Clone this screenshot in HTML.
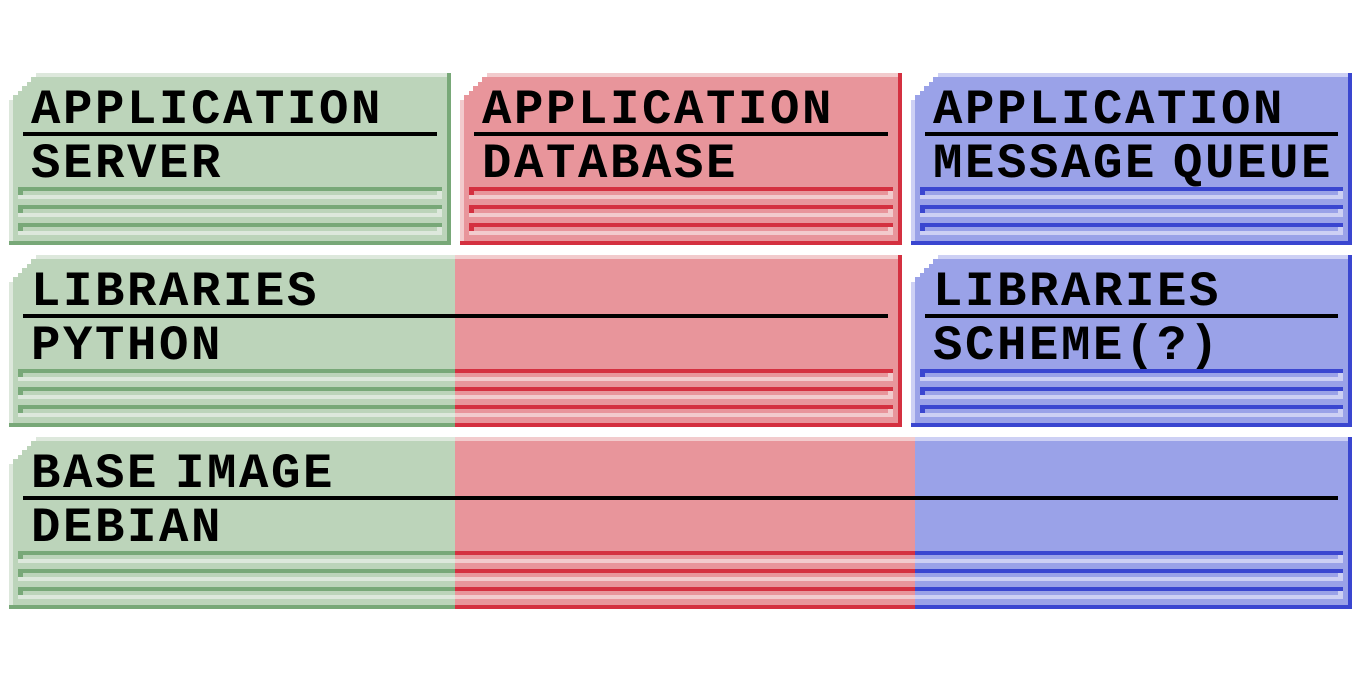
<!DOCTYPE html>
<html><head><meta charset="utf-8"><style>
html,body{margin:0;padding:0;background:#fff;width:1366px;height:683px;overflow:hidden;position:relative}
div{position:absolute}
.t{font-family:"Liberation Mono",monospace;font-weight:bold;font-size:49px;letter-spacing:2.6px;word-spacing:-16px;color:#000;line-height:1;white-space:pre}
</style></head><body>
<div id="root"></div>
<script>
const P={g:{f:'#bcd4ba',d:'#78a878',l:'#dde8dc'},r:{f:'#e8959b',d:'#d43040',l:'#f2cbcd'},b:{f:'#9aa2e8',d:'#3a46d0',l:'#cdd0f4'}};
function grad(segs,x0,w,k){
  let s=[],prev=0;
  segs.forEach(([end,p])=>{let e=end-x0;s.push(P[p][k]+' '+prev+'px',P[p][k]+' '+e+'px');prev=e;});
  return 'linear-gradient(to right,'+s.join(',')+')';
}
const root=document.getElementById('root');
function el(x,y,w,h,bg,extra){const d=document.createElement('div');d.style.cssText=`left:${x}px;top:${y}px;width:${w}px;height:${h}px;background:${bg};${extra||''}`;root.appendChild(d);return d;}
function box(x,y,x2,segs,t1,t2){
  const w=x2-x,h=172;
  const clip='clip-path:polygon(27px 0,100% 0,100% 100%,0 100%,0 27px,4px 27px,4px 22px,9px 22px,9px 18px,13px 18px,13px 13px,18px 13px,18px 9px,22px 9px,22px 4px,27px 4px)';
  el(x,y,w,h,grad(segs,x,w,'f'),clip);
  el(x,y,w-4,4,grad(segs,x,w,'l'),clip);
  const lp=P[segs[0][1]];
  el(x,y+27,4,h-31,lp.l);
  const rp=P[segs[segs.length-1][1]];
  el(x2-4,y,4,h,rp.d);
  el(x,y+h-4,w,4,grad(segs,x,w,'d'));
  el(x+14,y+59,w-28,4,'#000');
  [114,132,150].forEach(o=>{
    el(x+9,y+o,w-18,4,grad(segs,x+9,w-18,'d'));
    el(x+9,y+o+4,5,4,P[segs[0][1]].d);
    el(x+9,y+o+8,w-18,4,grad(segs,x+9,w-18,'l'));
    el(x+w-14,y+o+4,5,4,P[segs[segs.length-1][1]].l);
  });
  const a=document.createElement('div');a.className='t';a.style.left=(x+22)+'px';a.style.top=(y+13)+'px';a.textContent=t1;root.appendChild(a);
  const b=document.createElement('div');b.className='t';b.style.left=(x+22)+'px';b.style.top=(y+67)+'px';b.textContent=t2;root.appendChild(b);
}
box(9,73,451,[[451,'g']],'APPLICATION','SERVER');
box(460,73,902,[[902,'r']],'APPLICATION','DATABASE');
box(911,73,1352,[[1352,'b']],'APPLICATION','MESSAGE QUEUE');
box(9,255,902,[[455,'g'],[902,'r']],'LIBRARIES','PYTHON');
box(911,255,1352,[[1352,'b']],'LIBRARIES','SCHEME(?)');
box(9,437,1352,[[455,'g'],[915,'r'],[1352,'b']],'BASE IMAGE','DEBIAN');
</script>
</body></html>
